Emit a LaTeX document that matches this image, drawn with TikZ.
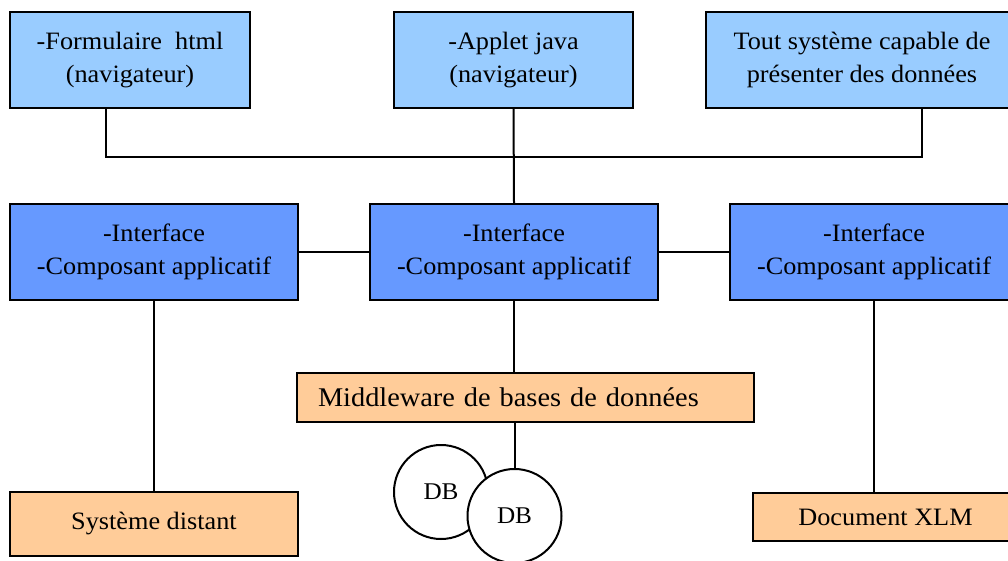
\documentclass[tikz,border=0pt]{standalone}
\usepackage{fontspec}
\setmainfont{Liberation Serif}[FakeStretch=1.05]
\usetikzlibrary{calc}
\definecolor{paleblue}{RGB}{153,204,255}
\definecolor{midblue}{RGB}{102,153,255}
\definecolor{peach}{RGB}{255,204,153}
\tikzset{
  box/.style={draw=black, line width=2pt, rectangle, inner sep=0pt,
    align=center, font=\fontsize{25}{33}\selectfont},
  client/.style={box, fill=paleblue, minimum height=96pt},
  service/.style={box, fill=midblue, minimum width=288pt, minimum height=96pt},
  target/.style={box, fill=peach},
  base/.style={draw=black, line width=2pt, circle, fill=white,
    minimum size=94pt, inner sep=0pt, font=\fontsize{24}{28}\selectfont},
  link/.style={draw=black, line width=2pt}
}
\begin{document}
\begin{tikzpicture}[x=1pt, y=-1pt]
\useasboundingbox (0,0) rectangle (1008,561);
\clip (0,0) rectangle (1008,561);

% client tier
\node[client, minimum width=240pt] (form) at (130,60) {-Formulaire~~html\\(navigateur)};
\node[client, minimum width=239pt] (applet) at (513.5,60) {-Applet java\\(navigateur)};
\node[client, minimum width=312pt] (any) at (862,60) {Tout système capable de\\présenter des données};

% application components
\node[service] (c1) at (154,252) {-Interface\\-Composant applicatif};
\node[service] (c2) at (514,252) {-Interface\\-Composant applicatif};
\node[service] (c3) at (874,252) {-Interface\\-Composant applicatif};

% back ends
\node[target, minimum width=288pt, minimum height=64pt] (remote) at (154,524) {Système distant};
\node[target, minimum width=457pt, minimum height=49pt, text width=415pt,
      inner xsep=21pt, align=left, font=\fontsize{27}{30}\selectfont] (mw) at (525.5,397) {Middleware de bases de données};
\node[target, minimum width=265pt, minimum height=48pt] (doc) at (885.5,517) {Document XLM};

% databases
\node[base] (db1) at (441,492) {DB};
\node[base] (db2) at (514.5,516) {DB};

% client bus
\coordinate (tapform) at ($(form.south west)!0.4!(form.south east)$);
\coordinate (tapany) at ($(any.south west)!0.6923!(any.south east)$);
\draw[link] (tapform) -- ++(0,48) coordinate (busL) -- (busL -| tapany) coordinate (busR) -- (tapany);
\draw[link] (applet.south) -- (c2.north);

% component links
\draw[link] (c1.east) -- (c2.west);
\draw[link] (c2.east) -- (c3.west);
\draw[link] (c1.south) -- (remote.north);
\draw[link] (c2.south) -- (c2.south |- mw.north);
\draw[link] (c3.south) -- (c3.south |- doc.north);
\draw[link] (db2.north |- mw.south) -- (db2.north);
\end{tikzpicture}
\end{document}
